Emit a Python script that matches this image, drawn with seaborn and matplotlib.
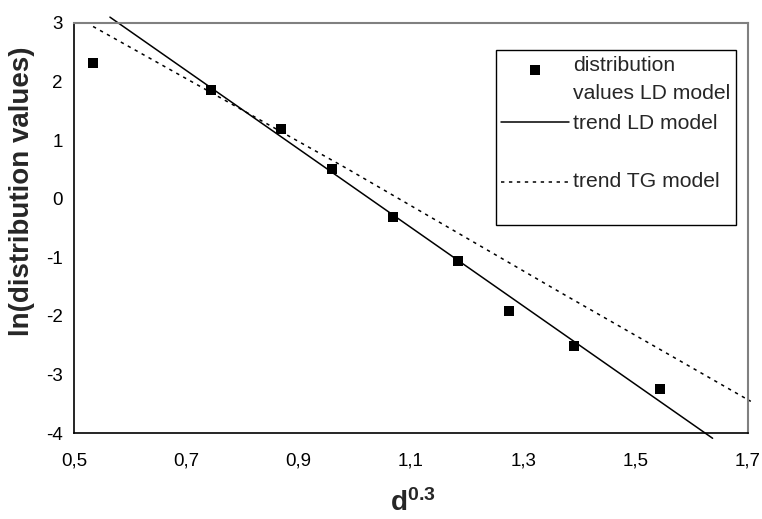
import matplotlib
matplotlib.use("Agg")
import matplotlib.pyplot as plt
import numpy as np
import pandas as pd
import seaborn as sns

# ------------------------------------------------------------
# Data
# ------------------------------------------------------------
d03 = [0.534, 0.744, 0.868, 0.959, 1.068, 1.183, 1.275, 1.390, 1.543]
ln_dist = [2.32, 1.86, 1.19, 0.50, -0.31, -1.07, -1.92, -2.51, -3.25]

trend_ld_x = [0.564, 1.637]
trend_ld_y = [3.10, -4.09]

trend_tg_x = [0.534, 0.985, 1.366, 1.705]
trend_tg_y = [2.94, 0.52, -1.60, -3.46]

x_ticks = [0.5, 0.7, 0.9, 1.1, 1.3, 1.5, 1.7]
x_tick_labels = ["0,5", "0,7", "0,9", "1,1", "1,3", "1,5", "1,7"]
y_ticks = [-4, -3, -2, -1, 0, 1, 2, 3]

# ------------------------------------------------------------
# Style
# ------------------------------------------------------------
sns.set_style("white")
plt.rcParams["font.family"] = ["Liberation Sans", "DejaVu Sans"]
plt.rcParams["axes.unicode_minus"] = False
plt.rcParams["mathtext.fontset"] = "custom"
plt.rcParams["mathtext.rm"] = "Liberation Sans"
plt.rcParams["mathtext.bf"] = "Liberation Sans:bold"

fig = plt.figure(figsize=(7.62, 5.19), dpi=100)
ax = fig.add_axes([0.0971, 0.1657, 0.8845, 0.79])

points = pd.DataFrame({"x": d03, "y": ln_dist})
ld = pd.DataFrame({"x": trend_ld_x, "y": trend_ld_y})
tg = pd.DataFrame({"x": trend_tg_x, "y": trend_tg_y})

sns.scatterplot(data=points, x="x", y="y", marker="s", s=48, color="black",
                edgecolor="black", linewidth=0, ax=ax, zorder=3,
                label="distribution\nvalues LD model")
sns.lineplot(data=ld, x="x", y="y", color="black", linewidth=1.1, ax=ax,
             sort=False, label="trend LD model")
sns.lineplot(data=tg, x="x", y="y", color="black", linewidth=1.1, ax=ax,
             sort=False, label="\ntrend TG model\n")
ax.lines[-1].set_linestyle((0, (2.2, 3)))
for ln in ax.lines:
    ln.set_clip_on(False)

ax.set_xlim(0.5, 1.7)
ax.set_ylim(-4, 3)
ax.set_xticks(x_ticks)
ax.set_xticklabels(x_tick_labels)
ax.set_yticks(y_ticks)
ax.tick_params(axis="both", direction="out", length=4, width=1, color="black",
               labelsize=13.5, labelcolor="black")
ax.tick_params(axis="x", pad=10)
ax.tick_params(axis="y", pad=4)

for side in ["left", "bottom"]:
    ax.spines[side].set_color("black")
    ax.spines[side].set_linewidth(1.2)
for side in ["top", "right"]:
    ax.spines[side].set_color("#808080")
    ax.spines[side].set_linewidth(1.5)

ax.set_xlabel(r"$\mathbf{d^{0.3}}$", fontsize=20, va="top")
ax.xaxis.set_label_coords(0.502, -0.138)
ax.set_ylabel("ln(distribution values)", fontsize=20, fontweight="bold", va="center")
ax.yaxis.set_label_coords(-0.077, 0.59)

leg = ax.legend(loc="upper left", bbox_to_anchor=(0.6257, 0.934), borderaxespad=0,
                fontsize=15.2, frameon=True, fancybox=False, shadow=False,
                framealpha=1, edgecolor="black", handlelength=3.2,
                handletextpad=0.2, borderpad=0.27, labelspacing=0.52)
leg.get_frame().set_linewidth(1.0)
for txt in leg.get_texts():
    txt.set_linespacing(1.62)

# Excel puts the marker next to the first line of the two-line label
marker_handle = leg.legend_handles[0]
offs = np.asarray(marker_handle.get_offsets(), dtype=float).copy()
offs[:, 1] += 8.5
marker_handle.set_offsets(offs)

fig.savefig("out.png", dpi=100)
